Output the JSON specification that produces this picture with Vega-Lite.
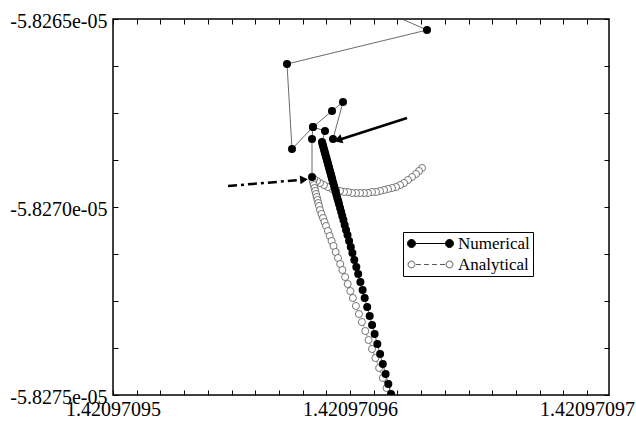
{
"$schema": "https://vega.github.io/schema/vega-lite/v6.json",
"width": 496, "height": 376,
"autosize": "none",
"padding": {"left": 113, "top": 19, "right": 27, "bottom": 29},
"background": "white",
"config": {"view": {"stroke": "black", "strokeWidth": 1.5}, "font": "Liberation Serif", "axis": {"grid": false}},
"datasets": {
"num": [
{"seg":"a","i":0,"x":1.420970958397,"y":-5.8269202e-05},
{"seg":"a","i":1,"x":1.420970958397,"y":-5.8268191e-05},
{"seg":"a","i":2,"x":1.420970958439,"y":-5.8267872e-05},
{"seg":"a","i":3,"x":1.420970958945,"y":-5.8267979e-05},
{"seg":"a","i":4,"x":1.420970958819,"y":-5.8268271e-05},
{"seg":"a","i":5,"x":1.42097095884,"y":-5.8268325e-05},
{"seg":"a","i":6,"x":1.420970958865,"y":-5.8268378e-05},
{"seg":"a","i":7,"x":1.420970958886,"y":-5.8268431e-05},
{"seg":"a","i":8,"x":1.420970958911,"y":-5.8268484e-05},
{"seg":"a","i":9,"x":1.420970958932,"y":-5.8268537e-05},
{"seg":"a","i":10,"x":1.420970958958,"y":-5.826859e-05},
{"seg":"a","i":11,"x":1.420970958979,"y":-5.8268644e-05},
{"seg":"a","i":12,"x":1.420970959004,"y":-5.8268697e-05},
{"seg":"a","i":13,"x":1.420970959025,"y":-5.826875e-05},
{"seg":"a","i":14,"x":1.420970959051,"y":-5.8268803e-05},
{"seg":"a","i":15,"x":1.420970959072,"y":-5.8268856e-05},
{"seg":"a","i":16,"x":1.420970959097,"y":-5.826891e-05},
{"seg":"a","i":17,"x":1.420970959118,"y":-5.8268963e-05},
{"seg":"a","i":18,"x":1.420970959143,"y":-5.8269016e-05},
{"seg":"a","i":19,"x":1.420970959165,"y":-5.8269069e-05},
{"seg":"a","i":20,"x":1.42097095919,"y":-5.8269122e-05},
{"seg":"a","i":21,"x":1.420970959211,"y":-5.8269176e-05},
{"seg":"a","i":22,"x":1.420970959236,"y":-5.8269229e-05},
{"seg":"a","i":23,"x":1.420970959257,"y":-5.8269282e-05},
{"seg":"a","i":24,"x":1.420970959291,"y":-5.8269362e-05},
{"seg":"a","i":25,"x":1.420970959329,"y":-5.8269441e-05},
{"seg":"a","i":26,"x":1.420970959363,"y":-5.8269521e-05},
{"seg":"a","i":27,"x":1.420970959397,"y":-5.8269601e-05},
{"seg":"a","i":28,"x":1.42097095943,"y":-5.8269681e-05},
{"seg":"a","i":29,"x":1.420970959464,"y":-5.8269761e-05},
{"seg":"a","i":30,"x":1.420970959502,"y":-5.826984e-05},
{"seg":"a","i":31,"x":1.420970959536,"y":-5.826992e-05},
{"seg":"a","i":32,"x":1.420970959582,"y":-5.8270027e-05},
{"seg":"a","i":33,"x":1.420970959629,"y":-5.8270133e-05},
{"seg":"a","i":34,"x":1.420970959675,"y":-5.8270239e-05},
{"seg":"a","i":35,"x":1.420970959722,"y":-5.8270346e-05},
{"seg":"a","i":36,"x":1.420970959776,"y":-5.8270479e-05},
{"seg":"a","i":37,"x":1.420970959835,"y":-5.8270612e-05},
{"seg":"a","i":38,"x":1.420970959895,"y":-5.8270745e-05},
{"seg":"a","i":39,"x":1.420970959962,"y":-5.8270904e-05},
{"seg":"a","i":40,"x":1.420970960034,"y":-5.8271064e-05},
{"seg":"a","i":41,"x":1.420970960101,"y":-5.8271223e-05},
{"seg":"a","i":42,"x":1.420970960181,"y":-5.827141e-05},
{"seg":"a","i":43,"x":1.420970960266,"y":-5.8271596e-05},
{"seg":"a","i":44,"x":1.420970960346,"y":-5.8271782e-05},
{"seg":"a","i":45,"x":1.420970960439,"y":-5.8271995e-05},
{"seg":"a","i":46,"x":1.420970960532,"y":-5.8272207e-05},
{"seg":"a","i":47,"x":1.42097096062,"y":-5.827242e-05},
{"seg":"a","i":48,"x":1.420970960726,"y":-5.827266e-05},
{"seg":"a","i":49,"x":1.420970960831,"y":-5.8272899e-05},
{"seg":"a","i":50,"x":1.420970960932,"y":-5.8273138e-05},
{"seg":"a","i":51,"x":1.420970961038,"y":-5.8273378e-05},
{"seg":"a","i":52,"x":1.420970961152,"y":-5.8273644e-05},
{"seg":"a","i":53,"x":1.42097096127,"y":-5.827391e-05},
{"seg":"a","i":54,"x":1.420970961384,"y":-5.8274176e-05},
{"seg":"a","i":55,"x":1.420970961502,"y":-5.8274441e-05},
{"seg":"a","i":56,"x":1.420970961616,"y":-5.8274707e-05},
{"seg":"a","i":57,"x":1.42097096173,"y":-5.8274973e-05},
{"seg":"b","i":100,"x":1.420970959283,"y":-5.8268191e-05},
{"seg":"b","i":101,"x":1.420970959705,"y":-5.8267207e-05},
{"seg":"b","i":102,"x":1.420970959241,"y":-5.8267447e-05},
{"seg":"b","i":103,"x":1.420970958439,"y":-5.8267872e-05},
{"seg":"b","i":104,"x":1.420970957553,"y":-5.8268457e-05},
{"seg":"b","i":105,"x":1.420970957342,"y":-5.8266197e-05},
{"seg":"b","i":106,"x":1.420970963249,"y":-5.8265293e-05},
{"seg":"b","i":107,"x":1.420970959409,"y":-5.8264229e-05}
],
"ana": [
{"i":0,"x":1.420970963038,"y":-5.8268963e-05},
{"i":1,"x":1.420970962911,"y":-5.8269043e-05},
{"i":2,"x":1.420970962785,"y":-5.8269122e-05},
{"i":3,"x":1.420970962616,"y":-5.8269202e-05},
{"i":4,"x":1.420970962447,"y":-5.8269282e-05},
{"i":5,"x":1.420970962278,"y":-5.8269362e-05},
{"i":6,"x":1.42097096211,"y":-5.8269415e-05},
{"i":7,"x":1.420970961941,"y":-5.8269468e-05},
{"i":8,"x":1.420970961772,"y":-5.8269495e-05},
{"i":9,"x":1.420970961603,"y":-5.8269521e-05},
{"i":10,"x":1.420970961435,"y":-5.8269548e-05},
{"i":11,"x":1.420970961266,"y":-5.8269574e-05},
{"i":12,"x":1.420970961097,"y":-5.8269601e-05},
{"i":13,"x":1.420970960928,"y":-5.8269601e-05},
{"i":14,"x":1.420970960759,"y":-5.8269628e-05},
{"i":15,"x":1.420970960591,"y":-5.8269628e-05},
{"i":16,"x":1.420970960422,"y":-5.8269628e-05},
{"i":17,"x":1.420970960253,"y":-5.8269628e-05},
{"i":18,"x":1.420970960084,"y":-5.8269628e-05},
{"i":19,"x":1.420970959916,"y":-5.8269601e-05},
{"i":20,"x":1.420970959747,"y":-5.8269601e-05},
{"i":21,"x":1.420970959578,"y":-5.8269574e-05},
{"i":22,"x":1.420970959409,"y":-5.8269548e-05},
{"i":23,"x":1.420970959241,"y":-5.8269521e-05},
{"i":24,"x":1.420970959072,"y":-5.8269468e-05},
{"i":25,"x":1.420970958903,"y":-5.8269415e-05},
{"i":26,"x":1.420970958734,"y":-5.8269362e-05},
{"i":27,"x":1.420970958608,"y":-5.8269309e-05},
{"i":28,"x":1.420970958481,"y":-5.8269256e-05},
{"i":29,"x":1.420970958439,"y":-5.8269335e-05},
{"i":30,"x":1.42097095847,"y":-5.8269415e-05},
{"i":31,"x":1.420970958502,"y":-5.8269495e-05},
{"i":32,"x":1.420970958534,"y":-5.8269574e-05},
{"i":33,"x":1.420970958565,"y":-5.8269654e-05},
{"i":34,"x":1.420970958597,"y":-5.8269734e-05},
{"i":35,"x":1.420970958629,"y":-5.8269814e-05},
{"i":36,"x":1.42097095866,"y":-5.8269894e-05},
{"i":37,"x":1.420970958692,"y":-5.8269973e-05},
{"i":38,"x":1.420970958734,"y":-5.827008e-05},
{"i":39,"x":1.420970958797,"y":-5.8270186e-05},
{"i":40,"x":1.420970958861,"y":-5.8270293e-05},
{"i":41,"x":1.420970958924,"y":-5.8270399e-05},
{"i":42,"x":1.420970958987,"y":-5.8270505e-05},
{"i":43,"x":1.420970959068,"y":-5.8270638e-05},
{"i":44,"x":1.420970959143,"y":-5.8270771e-05},
{"i":45,"x":1.420970959224,"y":-5.8270904e-05},
{"i":46,"x":1.420970959304,"y":-5.8271037e-05},
{"i":47,"x":1.420970959397,"y":-5.8271197e-05},
{"i":48,"x":1.420970959494,"y":-5.8271356e-05},
{"i":49,"x":1.420970959587,"y":-5.8271516e-05},
{"i":50,"x":1.420970959679,"y":-5.8271676e-05},
{"i":51,"x":1.420970959793,"y":-5.8271862e-05},
{"i":52,"x":1.420970959903,"y":-5.8272048e-05},
{"i":53,"x":1.420970960013,"y":-5.8272234e-05},
{"i":54,"x":1.420970960122,"y":-5.827242e-05},
{"i":55,"x":1.420970960249,"y":-5.8272633e-05},
{"i":56,"x":1.420970960376,"y":-5.8272846e-05},
{"i":57,"x":1.420970960502,"y":-5.8273059e-05},
{"i":58,"x":1.420970960646,"y":-5.8273298e-05},
{"i":59,"x":1.420970960785,"y":-5.8273537e-05},
{"i":60,"x":1.420970960928,"y":-5.8273777e-05},
{"i":61,"x":1.420970961072,"y":-5.8274016e-05},
{"i":62,"x":1.420970961228,"y":-5.8274282e-05},
{"i":63,"x":1.420970961384,"y":-5.8274548e-05},
{"i":64,"x":1.420970961544,"y":-5.8274814e-05}
],
"arrows": [
{"kind":"solid","x":1.420970962405,"y":-5.8267633e-05,"x2":1.420970959578,"y2":-5.8268205e-05},
{"kind":"dash","x":1.420970954853,"y":-5.8269441e-05,"x2":1.42097095789,"y2":-5.8269282e-05}
],
"heads": [
{"kind":"solid","x":1.420970959494,"y":-5.8268218e-05},
{"kind":"dash","x":1.420970958059,"y":-5.8269269e-05}
],
"leg": [{"s":"Numerical"},{"s":"Analytical"}]
},
"resolve": {"axis": {"x": "independent", "y": "independent"}},
"layer": [
{
"data": {"name": "ana"},
"mark": {"type": "line", "stroke": "#666", "strokeWidth": 0.8, "strokeDash": [5, 2, 1, 2], "clip": true},
"encoding": {
"x": {"field": "x", "type": "quantitative", "scale": {"domain": [1.42097095, 1.420970970928], "nice": false, "zero": false},
"axis": {"orient": "bottom", "title": null, "domain": false, "tickSize": -5, "tickColor": "black", "labelFont": "Liberation Serif", "labelFontSize": 20, "labelColor": "black", "labelFlush": false, "labelOverlap": false, "labelPadding": 9,
"values": [1.42097095, 1.420970951, 1.420970952, 1.420970953, 1.420970954, 1.420970955, 1.420970956, 1.420970957, 1.420970958, 1.420970959, 1.42097096, 1.420970961, 1.420970962, 1.420970963, 1.420970964, 1.420970965, 1.420970966, 1.420970967, 1.420970968, 1.420970969, 1.42097097],
"labelExpr": "abs(datum.value*1e8 - round(datum.value*1e8)) < 0.01 ? format(datum.value, '.8f') : ''"}},
"y": {"field": "y", "type": "quantitative", "scale": {"domain": [-5.8275e-05, -5.8265e-05], "nice": false, "zero": false},
"axis": {"orient": "left", "title": null, "domain": false, "tickSize": -5, "tickColor": "black", "labelFont": "Liberation Serif", "labelFontSize": 20, "labelColor": "black", "labelFlush": false, "labelOverlap": false, "labelPadding": 11, "labelOffset": 2,
"values": [-5.8275e-05, -5.827375e-05, -5.82725e-05, -5.827125e-05, -5.827e-05, -5.826875e-05, -5.82675e-05, -5.826625e-05, -5.8265e-05],
"labelExpr": "abs(datum.value*2e8 - round(datum.value*2e8)) < 0.01 ? '-' + replace(format(abs(datum.value), '.4e'), 'e-5', 'e-05') : ''"}},
"order": {"field": "i", "type": "quantitative"}
}
},
{
"data": {"name": "ana"},
"mark": {"type": "point", "shape": "circle", "filled": false, "fill": "white", "stroke": "#555", "strokeWidth": 0.8, "size": 50, "opacity": 1, "clip": true},
"encoding": {
"x": {"field": "x", "type": "quantitative", "scale": {"domain": [1.42097095, 1.420970970928], "nice": false, "zero": false}, "axis": null},
"y": {"field": "y", "type": "quantitative", "scale": {"domain": [-5.8275e-05, -5.8265e-05], "nice": false, "zero": false}, "axis": null},
"order": {"field": "i", "type": "quantitative"}
}
},
{
"data": {"name": "num"},
"mark": {"type": "line", "stroke": "#444", "strokeWidth": 0.8, "clip": true},
"encoding": {
"x": {"field": "x", "type": "quantitative", "scale": {"domain": [1.42097095, 1.420970970928], "nice": false, "zero": false},
"axis": {"orient": "top", "title": null, "domain": false, "labels": false, "tickSize": -5, "tickColor": "black",
"values": [1.42097095, 1.420970951, 1.420970952, 1.420970953, 1.420970954, 1.420970955, 1.420970956, 1.420970957, 1.420970958, 1.420970959, 1.42097096, 1.420970961, 1.420970962, 1.420970963, 1.420970964, 1.420970965, 1.420970966, 1.420970967, 1.420970968, 1.420970969, 1.42097097]}},
"y": {"field": "y", "type": "quantitative", "scale": {"domain": [-5.8275e-05, -5.8265e-05], "nice": false, "zero": false},
"axis": {"orient": "right", "title": null, "domain": false, "labels": false, "tickSize": -5, "tickColor": "black",
"values": [-5.8275e-05, -5.827375e-05, -5.82725e-05, -5.827125e-05, -5.827e-05, -5.826875e-05, -5.82675e-05, -5.826625e-05, -5.8265e-05]}},
"detail": {"field": "seg", "type": "nominal"},
"order": {"field": "i", "type": "quantitative"}
}
},
{
"data": {"name": "num"},
"mark": {"type": "point", "shape": "circle", "filled": true, "color": "black", "size": 64, "opacity": 1, "clip": true},
"encoding": {
"x": {"field": "x", "type": "quantitative", "scale": {"domain": [1.42097095, 1.420970970928], "nice": false, "zero": false}, "axis": null},
"y": {"field": "y", "type": "quantitative", "scale": {"domain": [-5.8275e-05, -5.8265e-05], "nice": false, "zero": false}, "axis": null}
}
},
{
"data": {"name": "arrows"},
"transform": [{"filter": "datum.kind === 'solid'"}],
"mark": {"type": "rule", "color": "black", "strokeWidth": 2.5},
"encoding": {
"x": {"field": "x", "type": "quantitative", "scale": {"domain": [1.42097095, 1.420970970928], "nice": false, "zero": false}, "axis": null},
"y": {"field": "y", "type": "quantitative", "scale": {"domain": [-5.8275e-05, -5.8265e-05], "nice": false, "zero": false}, "axis": null},
"x2": {"field": "x2"},
"y2": {"field": "y2"}
}
},
{
"data": {"name": "arrows"},
"transform": [{"filter": "datum.kind === 'dash'"}],
"mark": {"type": "rule", "color": "black", "strokeWidth": 2.5, "strokeDash": [9, 4, 3, 4]},
"encoding": {
"x": {"field": "x", "type": "quantitative", "scale": {"domain": [1.42097095, 1.420970970928], "nice": false, "zero": false}, "axis": null},
"y": {"field": "y", "type": "quantitative", "scale": {"domain": [-5.8275e-05, -5.8265e-05], "nice": false, "zero": false}, "axis": null},
"x2": {"field": "x2"},
"y2": {"field": "y2"}
}
},
{
"data": {"name": "heads"},
"transform": [{"filter": "datum.kind === 'solid'"}],
"mark": {"type": "point", "shape": "triangle-right", "filled": true, "color": "black", "size": 90, "angle": 162, "opacity": 1},
"encoding": {
"x": {"field": "x", "type": "quantitative", "scale": {"domain": [1.42097095, 1.420970970928], "nice": false, "zero": false}, "axis": null},
"y": {"field": "y", "type": "quantitative", "scale": {"domain": [-5.8275e-05, -5.8265e-05], "nice": false, "zero": false}, "axis": null}
}
},
{
"data": {"name": "heads"},
"transform": [{"filter": "datum.kind === 'dash'"}],
"mark": {"type": "point", "shape": "triangle-right", "filled": true, "color": "black", "size": 80, "angle": 355, "opacity": 1},
"encoding": {
"x": {"field": "x", "type": "quantitative", "scale": {"domain": [1.42097095, 1.420970970928], "nice": false, "zero": false}, "axis": null},
"y": {"field": "y", "type": "quantitative", "scale": {"domain": [-5.8275e-05, -5.8265e-05], "nice": false, "zero": false}, "axis": null}
}
},
{
"data": {"name": "leg"},
"transform": [{"filter": "false"}],
"mark": {"type": "point", "filled": true, "opacity": 1},
"encoding": {
"shape": {"field": "s", "type": "nominal",
"scale": {"domain": ["Numerical", "Analytical"], "range": ["M-3.75,0L3.75,0M-5.75,0A1,1,0,1,1,-3.75,0A1,1,0,1,1,-5.75,0ZM3.75,0A1,1,0,1,1,5.75,0A1,1,0,1,1,3.75,0Z", "M-3.6,0L-2.4,0M-1.6,0L-0.4,0M0.4,0L1.6,0M2.4,0L3.6,0M-5.6,0A0.85,0.85,0,1,1,-3.9,0A0.85,0.85,0,1,1,-5.6,0ZM3.9,0A0.85,0.85,0,1,1,5.6,0A0.85,0.85,0,1,1,3.9,0Z"]},
"legend": {"title": null, "orient": "none", "legendX": 290, "legendY": 213, "strokeColor": "black", "fillColor": "white", "padding": 3, "labelFont": "Liberation Serif", "labelFontSize": 17, "labelColor": "black", "symbolSize": 64, "symbolStrokeWidth": 1, "symbolOffset": 16, "labelOffset": 19, "rowPadding": 3}},
"fill": {"field": "s", "type": "nominal", "scale": {"domain": ["Numerical", "Analytical"], "range": ["black", "white"]},
"legend": {"title": null, "orient": "none", "legendX": 290, "legendY": 213, "strokeColor": "black", "fillColor": "white", "padding": 3, "labelFont": "Liberation Serif", "labelFontSize": 17, "labelColor": "black", "symbolSize": 64, "symbolStrokeWidth": 1, "symbolOffset": 16, "labelOffset": 19, "rowPadding": 3}},
"stroke": {"field": "s", "type": "nominal", "scale": {"domain": ["Numerical", "Analytical"], "range": ["black", "#555"]},
"legend": {"title": null, "orient": "none", "legendX": 290, "legendY": 213, "strokeColor": "black", "fillColor": "white", "padding": 3, "labelFont": "Liberation Serif", "labelFontSize": 17, "labelColor": "black", "symbolSize": 64, "symbolStrokeWidth": 1, "symbolOffset": 16, "labelOffset": 19, "rowPadding": 3}}
}
}
]
}
